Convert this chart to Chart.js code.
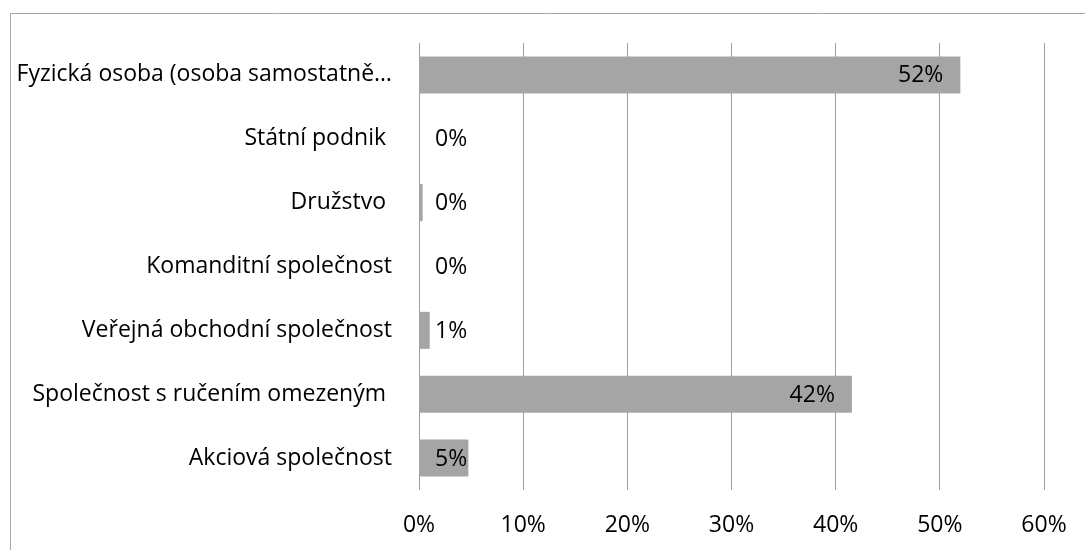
<!DOCTYPE html>
<html><head><meta charset="utf-8">
<script src="https://cdn.jsdelivr.net/npm/chart.js@4/dist/chart.umd.min.js"></script>
<style>html,body{margin:0;padding:0;background:#fff;overflow:hidden}#wrap{width:1085px;height:550px;position:relative}</style>
</head>
<body>
<div id="wrap"><canvas id="chart" width="1085" height="550"></canvas></div>
<script>
const categories = [
  'Fyzická osoba (osoba samostatně…',
  'Státní podnik ',
  'Družstvo ',
  'Komanditní společnost',
  'Veřejná obchodní společnost',
  'Společnost s ručením omezeným ',
  'Akciová společnost'
];
const values = [51.97, 0, 0.35, 0, 1.03, 41.56, 4.74];
const valueLabels = ['52%', '0%', '0%', '0%', '1%', '42%', '5%'];
const xTicks = [0, 10, 20, 30, 40, 50, 60];

const FONT = '"Open Sans", sans-serif';
const FSIZE = 23;

const framePlugin = {
  id: 'frame',
  beforeDraw(chart) {
    const ctx = chart.ctx;
    ctx.save();
    ctx.fillStyle = '#fff';
    ctx.fillRect(0, 0, chart.width, chart.height);
    ctx.strokeStyle = '#a6a6a6';
    ctx.lineWidth = 1;
    ctx.beginPath();
    ctx.moveTo(10.5, chart.height + 5);
    ctx.lineTo(10.5, 13.5);
    ctx.lineTo(chart.width + 5, 13.5);
    ctx.stroke();
    ctx.restore();
  }
};

const labelPlugin = {
  id: 'valLabels',
  afterDatasetsDraw(chart) {
    const ctx = chart.ctx;
    const meta = chart.getDatasetMeta(0);
    const x0 = chart.scales.x.getPixelForValue(0);
    ctx.save();
    ctx.font = FSIZE + 'px ' + FONT;
    ctx.fillStyle = '#000';
    ctx.textBaseline = 'middle';
    ctx.textAlign = 'left';
    meta.data.forEach((bar, i) => {
      const t = valueLabels[i];
      const w = ctx.measureText(t).width;
      let left = bar.x - 17 - w;
      if (left < x0 + 16) left = x0 + 16;
      ctx.fillText(t, left, bar.y + 1);
    });
    ctx.restore();
  }
};

new Chart(document.getElementById('chart'), {
  type: 'bar',
  data: {
    labels: categories,
    datasets: [{
      data: values,
      backgroundColor: '#a5a5a5',
      borderWidth: 0,
      barPercentage: 0.58,
      categoryPercentage: 1.0
    }]
  },
  options: {
    indexAxis: 'y',
    responsive: false,
    animation: false,
    devicePixelRatio: 1,
    layout: { padding: { top: 43, right: 41, left: 0, bottom: 0 } },
    plugins: { legend: { display: false }, tooltip: { enabled: false } },
    scales: {
      x: {
        min: 0, max: 60,
        afterBuildTicks(scale) { scale.ticks = xTicks.map(v => ({ value: v })); },
        afterFit(scale) { scale.height = 60; scale.paddingRight = 0; scale.paddingLeft = 0; },
        grid: { color: '#a0a0a0', lineWidth: 1, drawTicks: false },
        border: { display: false },
        ticks: {
          padding: 22,
          color: '#000',
          font: { family: FONT, size: FSIZE },
          callback: v => v + '%'
        }
      },
      y: {
        afterFit(scale) { scale.width = 419; scale.paddingTop = 0; scale.paddingBottom = 0; },
        grid: { display: false, drawTicks: false },
        border: { display: false },
        ticks: {
          padding: 27,
          color: '#000',
          autoSkip: false,
          font: { family: FONT, size: FSIZE }
        }
      }
    }
  },
  plugins: [framePlugin, labelPlugin]
});
</script>
</body></html>
